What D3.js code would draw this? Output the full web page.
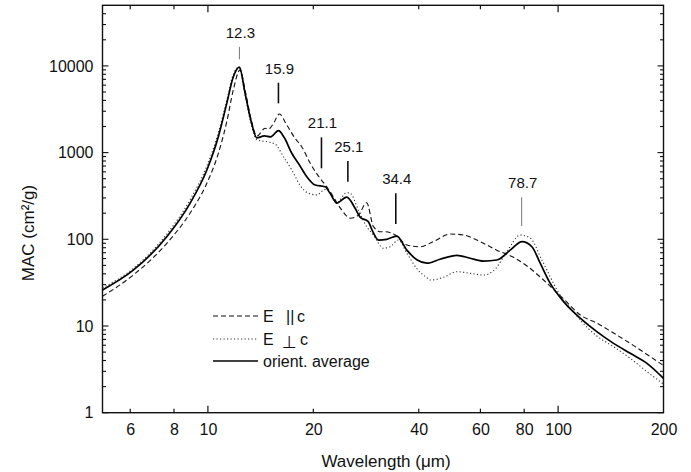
<!DOCTYPE html>
<html>
<head>
<meta charset="utf-8">
<script src="https://cdn.jsdelivr.net/npm/d3@7"></script>
<style>
  html, body { margin: 0; padding: 0; background: #fff; }
  svg { display: block; font-family: "Liberation Sans", Arial, Helvetica, sans-serif; }
  text, tspan { fill: #111; }
</style>
</head>
<body>
<svg id="chart" width="691" height="472"></svg>
<script>
// ---------------- data ----------------
const avgWl  = [5.0, 6.12, 7.63, 8.89, 9.93, 10.71, 11.32, 11.82, 12.3, 12.77, 13.26, 13.8, 14.5, 15.1, 15.9, 16.5, 17.36, 18.33, 19.16, 20.24, 21.6, 22.33, 23.33, 24.9, 26.3, 27.2, 28.7, 29.5, 30.7, 32.4, 34.6, 37.0, 39.5, 42.2, 46.0, 51.4, 56.1, 61.2, 66.8, 73.0, 78.9, 84.2, 88.9, 95.0, 103.7, 115.7, 129, 144, 160.7, 179.4, 200];
const avgMac = [26, 44, 107, 260, 630, 1525, 3700, 7500, 9700, 4830, 2380, 1480, 1560, 1520, 1790, 1500, 982, 700, 527, 423, 404, 339, 262, 306, 230, 180, 160, 125, 98, 100, 109, 75, 58, 53, 58.8, 65.4, 60.4, 56, 57.7, 75, 94, 82, 53, 31, 19.1, 12.3, 8.6, 6.3, 4.84, 3.71, 2.49];

const parWl  = [5.0, 6.12, 7.63, 8.89, 9.93, 10.71, 11.32, 11.82, 12.35, 12.8, 13.26, 13.8, 14.56, 14.88, 15.4, 16.0, 16.8, 17.74, 18.53, 19.6, 20.9, 21.85, 22.8, 24.1, 25.5, 26.9, 28.4, 29.7, 31.2, 32.1, 34.3, 37.0, 40.4, 44.0, 49.2, 53.7, 59.9, 66.8, 74.6, 81.5, 90.9, 103.7, 115.7, 129, 144, 160.7, 179.4, 200];
const parMac = [22, 38.7, 90, 200, 443, 980, 2270, 5300, 9000, 5000, 2500, 1550, 1910, 1860, 2180, 2790, 2080, 1460, 1170, 753, 505, 404, 310, 218, 175, 190, 264, 140, 122, 122, 112, 86, 82, 94, 115, 112, 94, 75, 62, 49.2, 33.9, 20.5, 13.4, 10.8, 8.3, 6.3, 4.7, 3.5];

const perpWl  = [5.0, 6.12, 7.63, 8.89, 9.93, 10.71, 11.32, 11.82, 12.25, 12.77, 13.26, 13.8, 14.72, 15.55, 16.43, 17.36, 18.33, 19.37, 20.46, 21.6, 22.3, 23.3, 24.9, 25.5, 26.9, 28.4, 29.7, 31.7, 33.1, 35.0, 37.0, 39.5, 42.2, 43.1, 47.1, 51.4, 56.1, 61.2, 66.0, 71.4, 78.0, 83.3, 89.9, 93.9, 97.0, 103.7, 110, 115.7, 129, 144, 160.7, 179.4, 200];
const perpMac = [27.5, 46, 115, 285, 700, 1700, 4000, 8000, 9700, 4600, 2200, 1400, 1335, 1257, 897, 630, 420, 340, 325, 375, 350, 262, 345, 339, 218, 140, 112, 79, 82, 98, 69, 46, 36, 33.9, 36.5, 42.3, 40.5, 38.7, 45, 72, 112, 103, 57.7, 40.5, 31.1, 19.8, 15, 11.7, 7.67, 5.77, 4.24, 2.97, 2.14];

// peak annotations: label, wavelength, MAC at bottom / top of marker line
const peakLabels = ["12.3", "15.9", "21.1", "25.1", "34.4", "78.7"];
const peakWl     = [12.3, 15.9, 21.1, 25.1, 34.4, 78.7];
const markLow    = [11900, 3700, 659, 462, 150, 142];
const markHigh   = [16600, 6400, 1500, 800, 340, 305];

const xTickVals = [6, 8, 10, 20, 40, 60, 80, 100, 200];
const yTickVals = [1, 10, 100, 1000, 10000];
const legendLabels = ["E || c", "E ⊥ c", "orient. average"];

// ---------------- layout ----------------
const L = 102.5, R = 663.5, T = 5.3, B = 412.7;
const svg = d3.select("#chart");

const x = d3.scaleLog().domain([5, 200]).range([L, R]);
const y = d3.scaleLog().domain([1, 50000]).range([B, T]);

// minor y ticks
const yMinor = [];
for (let d = 1; d <= 10000; d *= 10) {
  for (let m = 2; m <= 9; m++) { if (d * m < 50000) yMinor.push(d * m); }
}

// frame
svg.append("rect").attr("x", L).attr("y", T).attr("width", R - L).attr("height", B - T)
  .attr("fill", "none").attr("stroke", "#111").attr("stroke-width", 1.4);

// bottom axis
const xAxis = d3.axisBottom(x).tickValues(xTickVals).tickFormat(d3.format("d"))
  .tickSizeInner(0).tickSizeOuter(0).tickPadding(11);
const gx = svg.append("g").attr("transform", `translate(0,${B})`).call(xAxis);
gx.select(".domain").remove();
gx.selectAll("text").attr("font-size", 16).attr("fill", "#111")
  .attr("font-family", "Liberation Sans, Arial, sans-serif");

// x tick marks (bottom & top, inward)
const xTickLen = d => (d === 10 || d === 100) ? 7 : 4;
const xMarks = xTickVals.filter(d => d < 200);
svg.append("g").selectAll("line.xb").data(xMarks).join("line")
  .attr("x1", d => x(d)).attr("x2", d => x(d))
  .attr("y1", B).attr("y2", d => B - xTickLen(d))
  .attr("stroke", "#111").attr("stroke-width", 1.2);
svg.append("g").selectAll("line.xt").data(xMarks).join("line")
  .attr("x1", d => x(d)).attr("x2", d => x(d))
  .attr("y1", T).attr("y2", d => T + xTickLen(d))
  .attr("stroke", "#111").attr("stroke-width", 1.2);

// left axis labels
const yAxis = d3.axisLeft(y).tickValues(yTickVals).tickFormat(d3.format("d"))
  .tickSizeInner(0).tickSizeOuter(0).tickPadding(9);
const gy = svg.append("g").attr("transform", `translate(${L},0)`).call(yAxis);
gy.select(".domain").remove();
gy.selectAll("text").attr("font-size", 16).attr("fill", "#111")
  .attr("font-family", "Liberation Sans, Arial, sans-serif");

// y tick marks (left & right, inward)
const yAll = yTickVals.concat(yMinor);
const yLen = d => yTickVals.includes(d) ? 6 : 3.5;
svg.append("g").selectAll("line").data(yAll).join("line")
  .attr("x1", L).attr("x2", d => L + yLen(d))
  .attr("y1", d => y(d)).attr("y2", d => y(d))
  .attr("stroke", "#111").attr("stroke-width", 1.1);
svg.append("g").selectAll("line").data(yAll).join("line")
  .attr("x1", R).attr("x2", d => R - yLen(d))
  .attr("y1", d => y(d)).attr("y2", d => y(d))
  .attr("stroke", "#111").attr("stroke-width", 1.1);

// axis titles
svg.append("text").attr("x", (L + R) / 2 + 3).attr("y", 467)
  .attr("text-anchor", "middle").attr("font-size", 17).text("Wavelength (μm)");
svg.append("text").attr("transform", `translate(34,${(T + B) / 2 + 24}) rotate(-90)`)
  .attr("text-anchor", "middle").attr("font-size", 17).text("MAC (cm²/g)");

// curves
const line = d3.line().x(d => x(d[0])).y(d => y(d[1])).curve(d3.curveMonotoneX);
const zip = (a, b) => a.map((v, i) => [v, b[i]]);

const plot = svg.append("g");
plot.append("path").datum(zip(parWl, parMac)).attr("d", line)
  .attr("fill", "none").attr("stroke", "#111").attr("stroke-width", 1.1)
  .attr("stroke-dasharray", "5,3");
plot.append("path").datum(zip(perpWl, perpMac)).attr("d", line)
  .attr("fill", "none").attr("stroke", "#333").attr("stroke-width", 1.1)
  .attr("stroke-dasharray", "1.2,2.3");
plot.append("path").datum(zip(avgWl, avgMac)).attr("d", line)
  .attr("fill", "none").attr("stroke", "#000").attr("stroke-width", 1.7);

// peak markers
const thin = new Set(["12.3", "78.7"]);
const marks = svg.append("g");
peakLabels.forEach((lab, i) => {
  const px = x(peakWl[i]);
  marks.append("line").attr("x1", px).attr("x2", px)
    .attr("y1", y(markLow[i])).attr("y2", y(markHigh[i]))
    .attr("stroke", thin.has(lab) ? "#777" : "#111")
    .attr("stroke-width", thin.has(lab) ? 1 : 1.6);
  marks.append("text").attr("x", px + 1).attr("y", y(markHigh[i]) - 9)
    .attr("text-anchor", "middle").attr("font-size", 15).text(lab);
});

// legend
const lg = svg.append("g");
const legY = [316, 339, 361];
const legStyles = [
  { dash: "5,3", w: 1.1, c: "#111" },
  { dash: "1.2,2.3", w: 1.1, c: "#333" },
  { dash: null, w: 1.7, c: "#000" }
];
legendLabels.forEach((lab, i) => {
  lg.append("line").attr("x1", 213).attr("x2", 258).attr("y1", legY[i]).attr("y2", legY[i])
    .attr("stroke", legStyles[i].c).attr("stroke-width", legStyles[i].w)
    .attr("stroke-dasharray", legStyles[i].dash);
});
// E || c
const t0 = lg.append("text").attr("y", legY[0] + 6).attr("font-size", 16).attr("fill", "#111");
t0.append("tspan").attr("x", 263).attr("fill", "#111").text("E");
t0.append("tspan").attr("x", 286).attr("fill", "#111").text("||");
t0.append("tspan").attr("x", 297).attr("fill", "#111").text("c");
// E ⊥ c
const t1 = lg.append("text").attr("y", legY[1] + 6).attr("font-size", 16).attr("fill", "#111");
t1.append("tspan").attr("x", 263).attr("fill", "#111").text("E");
t1.append("tspan").attr("x", 282).attr("dy", 3).attr("fill", "#111")
  .attr("font-family", "DejaVu Sans").attr("font-size", 17).text("⊥");
t1.append("tspan").attr("x", 300).attr("dy", -3).attr("fill", "#111").text("c");
// orient. average
lg.append("text").attr("x", 263).attr("y", legY[2] + 6).attr("font-size", 16)
  .attr("fill", "#111").text(legendLabels[2]);
</script>
</body>
</html>
